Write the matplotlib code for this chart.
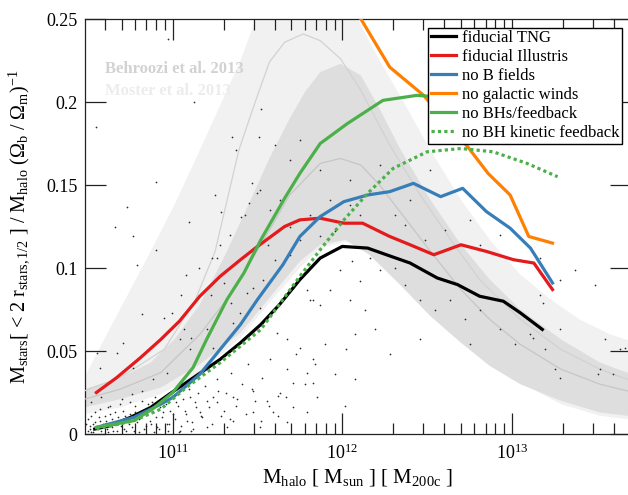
import numpy as np
import matplotlib
matplotlib.use("Agg")
import matplotlib.pyplot as plt
from matplotlib.ticker import LogLocator, NullFormatter, FixedLocator, FuncFormatter

plt.rcParams['font.family'] = 'serif'
plt.rcParams['font.serif'] = ['Liberation Serif', 'DejaVu Serif']
plt.rcParams['mathtext.fontset'] = 'custom'
plt.rcParams['mathtext.rm'] = 'Liberation Serif'
plt.rcParams['mathtext.it'] = 'Liberation Serif:italic'
plt.rcParams['mathtext.bf'] = 'Liberation Serif:bold'

# --- simulation medians: log10(M_halo) and M_stars/M_halo/(Omega_b/Omega_m)
tng_logm = [10.54, 10.63, 10.75, 10.87, 10.98, 11.08, 11.28, 11.40, 11.52, 11.63, 11.75,
            11.87, 12.00, 12.15, 12.26, 12.40, 12.56, 12.68, 12.81, 12.95, 13.05, 13.18]
tng_frac = [0.003, 0.005, 0.010, 0.016, 0.024, 0.031, 0.045, 0.055, 0.066, 0.078, 0.093,
            0.106, 0.113, 0.112, 0.108, 0.103, 0.094, 0.090, 0.083, 0.080, 0.073, 0.063]

ill_logm = [10.55, 10.67, 10.81, 10.93, 11.04, 11.16, 11.28, 11.40, 11.50, 11.66, 11.75,
            11.87, 12.01, 12.12, 12.28, 12.40, 12.54, 12.70, 12.85, 13.01, 13.13, 13.24]
ill_frac = [0.025, 0.034, 0.046, 0.057, 0.068, 0.083, 0.095, 0.105, 0.113, 0.125, 0.129,
            0.130, 0.127, 0.127, 0.119, 0.114, 0.108, 0.114, 0.110, 0.105, 0.103, 0.087]

nob_logm = [10.55, 10.77, 10.93, 11.00, 11.16, 11.28, 11.40, 11.50, 11.65, 11.75, 11.87,
            12.01, 12.15, 12.28, 12.42, 12.58, 12.71, 12.85, 12.99, 13.11, 13.24]
nob_frac = [0.004, 0.010, 0.018, 0.022, 0.036, 0.051, 0.066, 0.081, 0.102, 0.119, 0.131,
            0.140, 0.144, 0.146, 0.151, 0.143, 0.148, 0.134, 0.124, 0.112, 0.091]

nowind_logm = [11.96, 12.11, 12.28, 12.48, 12.74, 12.86, 12.99, 13.10, 13.24]
nowind_frac = [0.268, 0.250, 0.221, 0.204, 0.173, 0.157, 0.144, 0.119, 0.115]

nobh_logm = [10.55, 10.77, 10.88, 11.00, 11.12, 11.20, 11.32, 11.42, 11.52, 11.66, 11.75,
             11.87, 12.03, 12.24, 12.44, 12.58]
nobh_frac = [0.004, 0.008, 0.015, 0.025, 0.040, 0.057, 0.081, 0.097, 0.117, 0.142, 0.157,
             0.175, 0.187, 0.201, 0.204, 0.203]

nokin_logm = [10.55, 10.77, 10.93, 11.08, 11.28, 11.52, 11.75, 11.87, 12.01, 12.15, 12.30,
              12.50, 12.70, 12.89, 13.09, 13.27]
nokin_frac = [0.003, 0.008, 0.015, 0.028, 0.043, 0.063, 0.095, 0.111, 0.129, 0.145, 0.160,
              0.170, 0.172, 0.170, 0.163, 0.155]

# --- abundance matching bands (polygon outlines) and their median curves
moster_band_logm = [10.48, 10.57, 10.72, 10.87, 11.01, 11.16, 11.28, 11.40, 11.49, 11.60, 11.75,
                    11.93, 12.09, 12.22, 12.34, 12.52, 12.70, 12.87, 13.05, 13.23, 13.40, 13.58,
                    13.76, 13.76, 13.52, 13.29, 13.05, 12.87, 12.70, 12.52, 12.34, 12.16, 12.02,
                    11.87, 11.75, 11.57, 11.40, 11.16, 10.93, 10.69, 10.48]
moster_band_frac = [0.034, 0.052, 0.081, 0.110, 0.138, 0.171, 0.198, 0.225, 0.250, 0.276, 0.288,
                    0.279, 0.250, 0.225, 0.204, 0.171, 0.141, 0.117, 0.096, 0.081, 0.069, 0.060,
                    0.054, 0.008, 0.011, 0.018, 0.031, 0.043, 0.058, 0.076, 0.094, 0.109, 0.116,
                    0.112, 0.100, 0.079, 0.058, 0.037, 0.024, 0.016, 0.012]
moster_mid_logm = [10.48, 10.69, 10.95, 11.13, 11.25, 11.39, 11.49, 11.57, 11.66, 11.77, 11.87,
                   11.99, 12.11, 12.28, 12.46, 12.64, 12.81, 13.05, 13.29, 13.52, 13.76]
moster_mid_frac = [0.026, 0.034, 0.051, 0.080, 0.110, 0.171, 0.201, 0.224, 0.236, 0.241, 0.237,
                   0.226, 0.207, 0.174, 0.144, 0.117, 0.093, 0.069, 0.051, 0.039, 0.030]

behroozi_band_logm = [10.48, 10.69, 10.87, 11.01, 11.16, 11.31, 11.46, 11.57, 11.69, 11.78, 11.87,
                      11.99, 12.11, 12.22, 12.34, 12.52, 12.70, 12.87, 13.05, 13.29, 13.52, 13.76,
                      13.76, 13.52, 13.29, 13.05, 12.87, 12.70, 12.52, 12.34, 12.16, 12.02, 11.87,
                      11.75, 11.57, 11.40, 11.16, 10.93, 10.69, 10.48]
behroozi_band_frac = [0.027, 0.034, 0.043, 0.057, 0.078, 0.108, 0.141, 0.166, 0.190, 0.206, 0.218,
                      0.223, 0.216, 0.196, 0.172, 0.141, 0.114, 0.093, 0.075, 0.057, 0.043, 0.034,
                      0.010, 0.013, 0.020, 0.030, 0.041, 0.055, 0.071, 0.090, 0.108, 0.117, 0.114,
                      0.104, 0.082, 0.061, 0.042, 0.028, 0.021, 0.016]
behroozi_mid_logm = [10.48, 10.69, 10.93, 11.16, 11.34, 11.52, 11.69, 11.87, 11.99, 12.11, 12.22,
                     12.34, 12.52, 12.70, 12.87, 13.05, 13.29, 13.52, 13.76]
behroozi_mid_frac = [0.021, 0.027, 0.037, 0.060, 0.084, 0.114, 0.144, 0.163, 0.166, 0.162, 0.150,
                     0.134, 0.110, 0.087, 0.069, 0.054, 0.039, 0.030, 0.024]

# --- individual TNG galaxies
gal_logm = [10.50, 10.51, 10.52, 10.54, 10.55, 10.565, 10.58, 10.595, 10.605, 10.62, 10.63, 10.64,
            10.655, 10.67, 10.68, 10.695, 10.705, 10.725, 10.735, 10.75, 10.76, 10.78, 10.79, 10.80,
            10.81, 10.83, 10.84, 10.855, 10.865, 10.885, 10.895, 10.905, 10.925, 10.935, 10.955,
            10.965, 10.985, 10.995, 11.015, 11.03, 11.045, 11.06, 11.08, 11.095, 11.115, 11.13,
            11.15, 11.165, 11.19, 11.215, 11.24, 11.26, 11.285, 11.315, 11.345, 11.375, 11.41,
            11.445, 11.485, 11.525, 11.575, 11.62, 11.675, 11.725, 11.78, 11.84, 11.90, 11.96,
            12.02, 12.075, 12.135, 12.195, 12.046, 12.105, 11.928, 11.869, 11.987, 12.058, 12.164,
            12.223, 12.312, 12.371, 12.459, 12.548, 12.636, 12.725, 12.813, 12.931, 13.02, 13.108,
            13.197, 13.285, 13.521, 13.639, 12.754, 12.459, 12.282, 12.076, 12.017, 11.81, 11.692,
            11.604, 11.562, 11.751, 11.869, 11.958, 12.046, 12.105, 12.223, 12.312, 12.371, 12.489,
            12.607, 12.754, 12.813, 12.931, 13.049, 13.167, 13.285, 13.373, 13.491, 13.167, 12.518,
            12.40, 12.046, 11.928, 11.81, 11.692, 11.633, 11.574, 11.515, 11.604, 11.692, 11.751,
            11.869, 11.427, 11.338, 11.25, 13.255, 13.55, 10.972, 11.126, 10.547, 11.521, 11.35,
            11.509, 11.373, 10.901, 10.73, 11.096, 10.66, 10.766, 11.285, 11.468, 11.497, 11.45,
            10.901, 10.79, 11.403, 11.279, 11.232, 11.261, 11.078, 11.155, 10.819, 10.949, 10.996,
            11.049, 10.707, 11.226, 11.303, 11.344, 11.403, 11.067, 11.108, 11.185, 11.58, 10.553,
            10.671, 10.766, 10.571, 10.966, 10.884, 11.043, 11.102, 11.202, 11.238, 11.356, 11.397,
            11.438, 11.474, 11.533, 11.515, 11.556, 11.615, 11.674, 11.751, 11.828, 11.792, 11.71,
            11.633, 11.556, 11.474, 11.356, 11.261, 11.161, 11.084, 11.202, 11.356, 11.474, 11.592,
            11.71, 11.828, 11.851, 11.674, 11.515, 11.32, 11.792, 11.828, 11.792, 11.71, 13.185,
            13.126, 13.285, 13.51, 13.598, 13.668,
            10.49, 10.50, 10.51, 10.52, 10.53, 10.53, 10.54, 10.56, 10.57, 10.57, 10.59, 10.60,
            10.61, 10.62, 10.64, 10.65, 10.66, 10.68, 10.69, 10.71, 10.72, 10.74, 10.75, 10.77,
            10.78, 10.80, 10.82, 10.83, 10.85, 10.87, 10.88, 10.90, 10.92, 10.94, 10.96, 10.98,
            11.00, 11.02, 11.05, 11.07, 11.10, 11.12, 11.14, 11.17, 11.20, 11.23, 11.27, 11.30,
            11.34, 11.38, 11.43, 11.47, 11.52, 11.57, 11.62, 11.67, 10.52, 10.58, 10.63, 10.70,
            10.76, 10.82, 10.89, 10.97, 11.04, 11.11]
gal_frac = [0.002, 0.005, 0.001, 0.007, 0.004, 0.010, 0.002, 0.005, 0.008, 0.001, 0.012, 0.004,
            0.007, 0.002, 0.010, 0.005, 0.014, 0.002, 0.008, 0.012, 0.004, 0.017, 0.007, 0.001,
            0.011, 0.014, 0.005, 0.018, 0.008, 0.013, 0.022, 0.004, 0.016, 0.010, 0.020,
            0.006, 0.014, 0.023, 0.009, 0.017, 0.002, 0.021, 0.012, 0.027, 0.007, 0.019,
            0.025, 0.011, 0.029, 0.016, 0.022, 0.033, 0.011, 0.025, 0.037, 0.017, 0.030,
            0.042, 0.020, 0.034, 0.045, 0.023, 0.039, 0.048, 0.030, 0.042, 0.054, 0.036,
            0.051, 0.060, 0.075, 0.063, 0.081, 0.092, 0.087, 0.078, 0.099, 0.104, 0.106,
            0.099, 0.100, 0.090, 0.081, 0.075, 0.081, 0.069, 0.075, 0.063, 0.054, 0.060,
            0.051, 0.063, 0.039, 0.051, 0.054, 0.057, 0.048, 0.033, 0.017, 0.081, 0.108,
            0.105, 0.114, 0.117, 0.119, 0.122, 0.138, 0.132, 0.162, 0.132, 0.126, 0.117,
            0.123, 0.129, 0.114, 0.120, 0.105, 0.106, 0.093, 0.099, 0.090, 0.084, 0.159,
            0.141, 0.153, 0.141, 0.132, 0.125, 0.141, 0.135, 0.147, 0.174, 0.165, 0.177,
            0.159, 0.132, 0.120, 0.144, 0.039, 0.057, 0.238, 0.200, 0.185, 0.196, 0.179,
            0.179, 0.171, 0.152, 0.137, 0.128, 0.125, 0.119, 0.134, 0.151, 0.145, 0.139,
            0.111, 0.102, 0.131, 0.114, 0.106, 0.106, 0.096, 0.100, 0.072, 0.070, 0.073,
            0.084, 0.055, 0.084, 0.091, 0.079, 0.067, 0.063, 0.058, 0.055, 0.129, 0.049,
            0.049, 0.040, 0.040, 0.037, 0.033, 0.057, 0.051, 0.063, 0.052, 0.067, 0.073,
            0.085, 0.088, 0.093, 0.076, 0.069, 0.061, 0.057, 0.052, 0.045, 0.037, 0.031,
            0.025, 0.020, 0.026, 0.022, 0.019, 0.013, 0.008, 0.004, 0.008, 0.013, 0.013,
            0.016, 0.031, 0.022, 0.007, 0.004, 0.004, 0.013, 0.081, 0.087, 0.088, 0.079,
            0.058, 0.034, 0.036, 0.036, 0.052,
            0.006, 0.009, 0.003, 0.011, 0.006, 0.001, 0.013, 0.003, 0.008, 0.015, 0.006, 0.011,
            0.003, 0.016, 0.009, 0.002, 0.013, 0.006, 0.018, 0.003, 0.011, 0.006, 0.019, 0.002,
            0.013, 0.009, 0.020, 0.003, 0.012, 0.006, 0.019, 0.010, 0.003, 0.013, 0.018, 0.006,
            0.012, 0.019, 0.005, 0.014, 0.022, 0.003, 0.016, 0.010, 0.020, 0.006, 0.026, 0.014,
            0.009, 0.021, 0.012, 0.027, 0.008, 0.017, 0.011, 0.022, 0.019, 0.022, 0.017, 0.021,
            0.024, 0.026, 0.001, 0.002, 0.001, 0.002]

series = [
    (tng_logm, tng_frac, 'fiducial TNG', '#000000', '-'),
    (ill_logm, ill_frac, 'fiducial Illustris', '#e41a1c', '-'),
    (nob_logm, nob_frac, 'no B fields', '#377eb8', '-'),
    (nowind_logm, nowind_frac, 'no galactic winds', '#ff7f00', '-'),
    (nobh_logm, nobh_frac, 'no BHs/feedback', '#4daf4a', '-'),
    (nokin_logm, nokin_frac, 'no BH kinetic feedback', '#4daf4a', (0, (1, 1))),
]

fig = plt.figure(figsize=(6.28, 4.95), dpi=100)
ax = fig.add_axes([0.1346, 0.1232, 0.8694, 0.8384])

def m(lg):
    return 10 ** np.asarray(lg)

ax.fill(m(moster_band_logm), moster_band_frac, color='#f1f1f1', lw=0, zorder=1)
ax.fill(m(behroozi_band_logm), behroozi_band_frac, color='#dedede', lw=0, zorder=2)
ax.plot(m(moster_mid_logm), moster_mid_frac, color='#d2d2d2', lw=0.9, zorder=3)
ax.plot(m(behroozi_mid_logm), behroozi_mid_frac, color='#c6c6c6', lw=0.9, zorder=3)

ax.scatter(m(gal_logm), gal_frac, s=1.5, color='#2a2a2a', lw=0, zorder=4)

for lg, fr, lab, col, ls in series:
    ax.plot(m(lg), fr, color=col, ls=ls, lw=2.3, label=lab, zorder=5)

ax.text(10 ** 10.60, 0.220, 'Behroozi et al. 2013', color='#d2d2d2', fontsize=12,
        fontweight='bold', va='center', zorder=6)
ax.text(10 ** 10.60, 0.2065, 'Moster et al. 2013', color='#ececec', fontsize=12,
        fontweight='bold', va='center', zorder=6)

ax.set_xscale('log')
ax.set_xlim(10 ** 10.48, 10 ** 13.70)
ax.set_ylim(0, 0.25)
ax.yaxis.set_major_locator(FixedLocator([0, 0.05, 0.1, 0.15, 0.2, 0.25]))
ax.yaxis.set_major_formatter(FuncFormatter(lambda v, p: '%g' % v))
ax.xaxis.set_major_locator(LogLocator(base=10))
ax.xaxis.set_minor_locator(LogLocator(base=10, subs=np.arange(2, 10)))
ax.xaxis.set_minor_formatter(NullFormatter())

ax.tick_params(which='both', direction='in', top=True, right=True, colors='#222222',
               labelcolor='black', labelsize=13, width=0.9)
ax.tick_params(which='major', length=15)
ax.tick_params(axis='y', which='major', pad=5)
ax.tick_params(axis='x', which='major', pad=7)
ax.tick_params(which='minor', length=8)
for sp in ax.spines.values():
    sp.set_color('#222222')
    sp.set_linewidth(0.9)

ax.set_xlabel(r'M$_{\rm halo}$ [ M$_{\rm sun}$ ] [ M$_{\rm 200c}$ ]', fontsize=15, labelpad=3)
ax.set_ylabel(r'M$_{\rm stars}$[ < 2 r$_{\rm stars,1/2}$ ] / M$_{\rm halo}$ (Ω$_{\rm b}$ / Ω$_{\rm m}$)$^{-1}$',
              fontsize=14.5)
ax.yaxis.set_label_coords(-0.097, 0.5)

leg = ax.legend(loc='upper right', bbox_to_anchor=(0.985, 0.979), borderaxespad=0,
                fontsize=12, handlelength=1.5, handletextpad=0.4, labelspacing=0.18,
                borderpad=0.15, fancybox=False, framealpha=1, edgecolor='black')
leg.get_frame().set_linewidth(1.0)
leg.set_zorder(10)

fig.savefig('out.png', dpi=100)
